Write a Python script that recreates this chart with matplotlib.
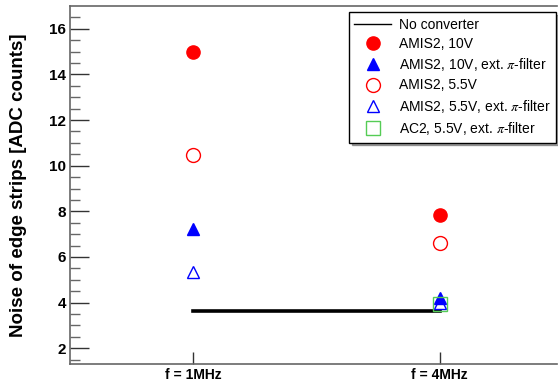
import matplotlib.pyplot as plt
import numpy as np

plt.rcParams['font.family'] = ['Liberation Sans', 'DejaVu Sans']
plt.rcParams['mathtext.fontset'] = 'stix'

# Categories on the x axis
freq_labels = ['f = 1MHz', 'f = 4MHz']
freq_pos = [1, 2]

# Reference level without converter
no_conv = [3.64, 3.64]

# Noise values per configuration (None = not measured)
amis2_10v = [14.98, 7.84]
amis2_10v_filt = [7.21, 4.22]
amis2_55v = [10.46, 6.63]
amis2_55v_filt = [5.36, 3.98]
ac2_55v_filt = [None, 3.92]


def pts(vals):
    x = [p for p, v in zip(freq_pos, vals) if v is not None]
    y = [v for v in vals if v is not None]
    return x, y


fig = plt.figure(figsize=(5.58, 3.83), dpi=100)
ax = fig.add_axes([70 / 558, 19 / 383, 487 / 558, 358 / 383])

ax.plot(freq_pos, no_conv, color='black', lw=2.6, label='No converter', zorder=2)

x, y = pts(amis2_10v)
ax.plot(x, y, 'o', ls='none', color='red', ms=9.5, label='AMIS2, 10V', zorder=3)
x, y = pts(amis2_10v_filt)
ax.plot(x, y, '^', ls='none', color='blue', ms=8.5, label=r'AMIS2, 10V, ext. $\pi$-filter', zorder=3)
x, y = pts(amis2_55v)
ax.plot(x, y, 'o', ls='none', mfc='none', mec='red', mew=1, ms=10, label='AMIS2, 5.5V', zorder=3)
x, y = pts(amis2_55v_filt)
ax.plot(x, y, '^', ls='none', mfc='none', mec='blue', mew=1, ms=9, label=r'AMIS2, 5.5V, ext. $\pi$-filter', zorder=3)
x, y = pts(ac2_55v_filt)
ax.plot(x, y, 's', ls='none', mfc='none', mec='#55cc55', mew=1, ms=9.5, label=r'AC2, 5.5V, ext. $\pi$-filter', zorder=3)

ax.set_xlim(0.502, 2.475)
ax.set_ylim(1.31, 17.0)
ax.set_xticks(freq_pos)
ax.set_xticklabels(freq_labels, fontweight='bold', fontsize=10)
ax.set_yticks(np.arange(2, 17, 2))
ax.set_yticks(np.arange(1.5, 17.0, 0.5), minor=True)
for lab in ax.get_yticklabels():
    lab.set_fontweight('bold')
    lab.set_fontsize(11)
ax.tick_params(axis='y', which='major', direction='in', length=14, width=1, color='#333333', pad=3)
ax.tick_params(axis='y', which='minor', direction='in', length=7, width=1, color='#666666')
ax.tick_params(axis='x', which='major', direction='in', length=9, width=1, color='#333333', pad=3)
ax.tick_params(axis='x', which='minor', bottom=False)

for s in ax.spines.values():
    s.set_color('#666666')
    s.set_linewidth(1.2)
ax.spines['right'].set_visible(False)

ax.set_ylabel('Noise of edge strips [ADC counts]', fontweight='bold', fontsize=13.5, labelpad=16)

leg = fig.legend(loc='upper right', bbox_to_anchor=(556 / 558, 1 - 12 / 383),
                 borderaxespad=0, fancybox=False, shadow=True, frameon=True,
                 fontsize=10, handlelength=2.6, labelspacing=0.38, borderpad=0.4,
                 handletextpad=0.6, numpoints=1)
leg.get_frame().set_edgecolor('black')
leg.get_frame().set_linewidth(1)
leg.get_lines()[0].set_linewidth(1)

fig.savefig('out.png', dpi=100)
